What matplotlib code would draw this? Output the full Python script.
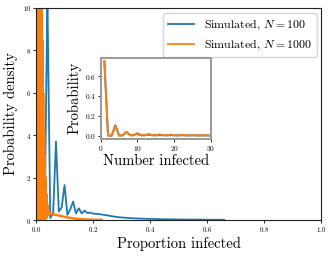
import numpy as np
import matplotlib
matplotlib.use('Agg')
import matplotlib.pyplot as plt

plt.rcParams['font.family'] = ['cmr10', 'DejaVu Serif']
plt.rcParams['mathtext.fontset'] = 'cm'
plt.rcParams['axes.formatter.use_mathtext'] = True

# N = 100: number infected and probability density
k100 = list(range(1, 67))
dens100 = [75, 0.0, 0.0, 10.5, 0.1, 0.3, 3.7, 0.4, 0.6, 1.65,
           0.24, 0.5, 0.87, 0.31, 0.55, 0.31, 0.44, 0.33, 0.35, 0.30,
           0.29, 0.28, 0.26, 0.24, 0.22, 0.19, 0.17, 0.15, 0.13, 0.12,
           0.11, 0.10, 0.09, 0.08, 0.075, 0.07, 0.065, 0.06, 0.055, 0.05,
           0.05, 0.045, 0.04, 0.04, 0.035, 0.035, 0.03, 0.03, 0.03, 0.025,
           0.025, 0.025, 0.02, 0.02, 0.02, 0.02, 0.02, 0.018, 0.018, 0.016,
           0.015, 0.014, 0.013, 0.012, 0.011, 0.01]

# N = 1000
k1000 = list(range(1, 51)) + [60, 70, 80, 90, 100, 110, 120, 130, 140, 150,
                              160, 170, 180, 190, 200, 210, 220, 230]
dens1000 = [750, 0, 0, 100, 0.4, 0.05, 40, 3, 0.05, 25,
            8, 0.05, 18, 6, 0.05, 14, 5, 0.05, 11, 4,
            0.05, 8.5, 3, 0.05, 6, 2.2, 0.05, 4.2, 1.5, 0.05,
            3.0, 1.1, 0.05, 2.0, 0.8, 0.1, 1.2, 0.5, 0.2, 0.7,
            0.4, 0.25, 0.45, 0.3, 0.3, 0.35, 0.3, 0.3, 0.3, 0.3,
            0.27, 0.24, 0.21, 0.18, 0.15, 0.12, 0.10, 0.08, 0.06, 0.05,
            0.04, 0.03, 0.025, 0.02, 0.015, 0.01, 0.008, 0.005]


def makePlot():
    fig = plt.figure(figsize=(3.32, 2.56), dpi=100)
    ax = fig.add_axes([36/332, 1-220/256, 285.3/332, 212/256])

    x100 = np.array(k100)/100
    x1000 = np.array(k1000)/1000
    ax.plot(x100, dens100, color='#1f77b4', lw=1.3, label='Simulated, $N = 100$')
    ax.plot(x1000, dens1000, color='#ff7f0e', lw=1.8, label='Simulated, $N = 1000$')
    ax.set_xlim(0, 1)
    ax.set_ylim(0, 10)
    ax.set_xticks([0, 0.2, 0.4, 0.6, 0.8, 1.0])
    ax.set_yticks([0, 2, 4, 6, 8, 10])
    ax.tick_params(labelsize=5, length=2, width=0.6, pad=1.5)
    ax.set_xlabel('Proportion infected', fontsize=10.5, labelpad=2)
    ax.set_ylabel('Probability density', fontsize=10.5, labelpad=3)
    for s in ax.spines.values():
        s.set_linewidth(0.8)
        s.set_color('#222222')
    leg = ax.legend(loc='upper right', fontsize=8.6, handlelength=2.2,
                    borderaxespad=0.4, framealpha=0.8, edgecolor='#cccccc')
    for line in leg.get_lines():
        line.set_linewidth(1.3)

    axi = fig.add_axes([100.7/332, 1-139.3/256, 110/332, 81.8/256])
    axi.plot(k100, np.array(dens100)/100, color='#1f77b4', lw=1.4)
    axi.plot(k1000, np.array(dens1000)/1000, color='#ff7f0e', lw=1.4)
    axi.set_xlim(0, 30)
    axi.set_xticks([0, 10, 20, 30])
    axi.set_yticks([0.0, 0.2, 0.4, 0.6])
    axi.tick_params(labelsize=5.3, length=2, width=0.6, pad=1.5)
    axi.set_xlabel('Number infected', fontsize=10.5, labelpad=1)
    axi.set_ylabel('Probability', fontsize=10.5, labelpad=2)
    for s in axi.spines.values():
        s.set_linewidth(1.4)
        s.set_color('#999999')

    fig.savefig('out.png', dpi=100)


makePlot()
